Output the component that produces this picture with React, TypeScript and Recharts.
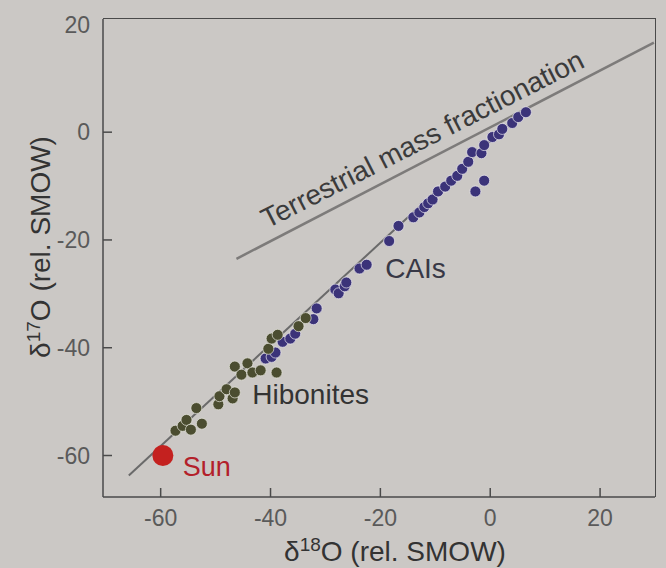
import { Scatter, ScatterChart, XAxis, YAxis } from 'recharts'

const xDomain = [-70.5, 30]
const yDomain = [-67.7, 21]
const xTicks = [-60, -40, -20, 0, 20]
const yTicks = [-60, -40, -20, 0, 20]

const hibonites = [
  { x: -57.3, y: -55.4 }, { x: -56.0, y: -54.5 }, { x: -55.3, y: -53.4 }, { x: -54.5, y: -55.2 },
  { x: -53.5, y: -51.2 }, { x: -52.5, y: -54.1 }, { x: -49.5, y: -50.5 }, { x: -49.3, y: -49.0 },
  { x: -48.0, y: -47.7 }, { x: -46.9, y: -49.4 }, { x: -46.5, y: -48.3 }, { x: -46.5, y: -43.5 },
  { x: -45.3, y: -45.0 }, { x: -44.2, y: -42.9 }, { x: -43.3, y: -44.6 }, { x: -41.8, y: -44.2 },
  { x: -38.9, y: -44.6 }, { x: -40.4, y: -40.2 }, { x: -39.8, y: -38.3 }, { x: -38.7, y: -37.6 },
  { x: -34.9, y: -36.0 }, { x: -33.6, y: -34.5 },
]

const cais = [
  { x: -40.9, y: -42.0 }, { x: -39.8, y: -41.7 }, { x: -39.1, y: -40.9 }, { x: -37.8, y: -38.9 },
  { x: -36.4, y: -38.3 }, { x: -35.5, y: -37.4 }, { x: -32.2, y: -34.7 }, { x: -31.6, y: -32.7 },
  { x: -28.2, y: -29.2 }, { x: -27.6, y: -29.9 }, { x: -26.5, y: -28.6 }, { x: -26.2, y: -27.9 },
  { x: -23.8, y: -25.3 }, { x: -22.5, y: -24.6 }, { x: -18.4, y: -20.2 }, { x: -16.7, y: -17.4 },
  { x: -14.0, y: -15.8 }, { x: -12.9, y: -14.9 }, { x: -12.0, y: -13.9 }, { x: -11.3, y: -13.2 },
  { x: -10.5, y: -12.5 }, { x: -9.5, y: -11.0 }, { x: -8.2, y: -10.1 }, { x: -7.1, y: -9.0 },
  { x: -6.0, y: -8.1 }, { x: -5.1, y: -6.8 }, { x: -4.0, y: -5.5 }, { x: -3.3, y: -3.7 },
  { x: -1.6, y: -3.9 }, { x: -1.1, y: -2.4 }, { x: 0.4, y: -0.9 }, { x: 1.6, y: -0.4 },
  { x: 2.2, y: 0.6 }, { x: 4.0, y: 1.7 }, { x: 5.1, y: 2.8 }, { x: 6.5, y: 3.7 },
  { x: -1.1, y: -9.0 }, { x: -2.7, y: -11.0 },
]

const sun = [{ x: -59.6, y: -60 }]

// slope ~1 line through the meteoritic data, and the terrestrial line (slope ~0.52)
const mixingLine = [{ x: -65.8, y: -63.7 }, { x: 6.0, y: 4.0 }]
const terrestrialLine = [{ x: -46.2, y: -23.5 }, { x: 29.8, y: 16.6 }]

const annotations = [
  { x: -12.4, y: -1.2, text: 'Terrestrial mass fractionation', color: '#3b3b3b', angle: -27, size: 28 },
  { x: -13.6, y: -25.1, text: 'CAIs', color: '#383846', angle: 0, size: 28 },
  { x: -32.7, y: -48.6, text: 'Hibonites', color: '#333333', angle: 0, size: 28 },
  { x: -51.6, y: -62.0, text: 'Sun', color: '#b3202a', angle: 0, size: 27 },
]

const FRAME = '#4a4a4a'
const TICK_TEXT = '#5a5a5a'
const FONT = '"Liberation Sans", Arial, sans-serif'
const MARGIN = { top: 19, right: 11, bottom: 0, left: 0 }
const Y_AXIS_W = 103
const X_AXIS_H = 71

function BottomTick({ x, y, payload }: any) {
  return (
    <g>
      <line x1={x} y1={y - 12} x2={x} y2={y - 21} stroke={FRAME} strokeWidth={1.5} />
      <text x={x} y={y} dy="0.75em" textAnchor="middle" fill={TICK_TEXT} fontSize={23}>
        {payload.value}
      </text>
    </g>
  )
}

function LeftTick({ x, y, payload }: any) {
  return (
    <g>
      {payload.value !== 20 && <line x1={x + 13} y1={y} x2={x + 22} y2={y} stroke={FRAME} strokeWidth={1.5} />}
      <text x={x} y={y} dy="0.36em" textAnchor="end" fill={TICK_TEXT} fontSize={23}>
        {payload.value}
      </text>
    </g>
  )
}

function XTitle({ viewBox }: any) {
  const cx = viewBox.x + viewBox.width / 2 + 16
  return (
    <text x={cx} y={viewBox.y + 64} textAnchor="middle" fill="#333" fontSize={28}>
      δ<tspan dy={-10} fontSize={19}>18</tspan>
      <tspan dy={10}>O (rel. SMOW)</tspan>
    </text>
  )
}

function YTitle({ viewBox }: any) {
  const cx = 40
  const cy = viewBox.y + viewBox.height / 2 - 11
  return (
    <text x={cx} y={cy} dy="0.36em" transform={`rotate(-90 ${cx} ${cy})`} textAnchor="middle" fill="#333" fontSize={28}>
      δ<tspan dy={-10} fontSize={19}>17</tspan>
      <tspan dy={10}>O (rel. SMOW)</tspan>
    </text>
  )
}

const dot = (fill: string, stroke: string, r: number) => (p: any) =>
  <circle cx={p.cx} cy={p.cy} r={r} fill={fill} stroke={stroke} strokeWidth={1} />

const annotationShape = (p: any) => {
  const a = p.payload
  return (
    <text
      x={p.cx}
      y={p.cy}
      dy="0.36em"
      textAnchor="middle"
      fill={a.color}
      fontSize={a.size}
      transform={a.angle ? `rotate(${a.angle} ${p.cx} ${p.cy})` : undefined}
    >
      {a.text}
    </text>
  )
}

export default function App() {
  const W = 666
  const H = 568
  return (
    <div style={{ position: 'absolute', left: 0, top: 0, width: W, height: H, background: '#cbc8c5', fontFamily: FONT }}>
      <ScatterChart width={W} height={H} margin={MARGIN}>
        <XAxis
          type="number"
          dataKey="x"
          domain={xDomain}
          ticks={xTicks}
          interval={0}
          height={X_AXIS_H}
          tickSize={0}
          tickMargin={12}
          tick={<BottomTick />}
          axisLine={{ stroke: FRAME, strokeWidth: 1.5 }}
          label={<XTitle />}
        />
        <YAxis
          type="number"
          dataKey="y"
          domain={yDomain}
          ticks={yTicks}
          interval={0}
          width={Y_AXIS_W}
          tickSize={0}
          tickMargin={13}
          tick={<LeftTick />}
          axisLine={{ stroke: FRAME, strokeWidth: 1.5 }}
          label={<YTitle />}
        />
        <Scatter data={terrestrialLine} line={{ stroke: '#7d7b7a', strokeWidth: 2.5 }} shape={() => null} isAnimationActive={false} />
        <Scatter data={mixingLine} line={{ stroke: '#6a6a6a', strokeWidth: 2 }} shape={() => null} isAnimationActive={false} />
        <Scatter data={cais} shape={dot('#3b3379', 'rgba(235,232,240,0.7)', 5.5)} isAnimationActive={false} />
        <Scatter data={hibonites} shape={dot('#4b4d30', 'rgba(230,230,220,0.7)', 5.5)} isAnimationActive={false} />
        <Scatter data={sun} shape={dot('#c4211f', 'none', 10.5)} isAnimationActive={false} />
        <Scatter data={annotations} shape={annotationShape} isAnimationActive={false} />
      </ScatterChart>
      {/* top and right sides of the plot box */}
      <div
        style={{
          position: 'absolute',
          pointerEvents: 'none',
          boxSizing: 'border-box',
          left: MARGIN.left + Y_AXIS_W,
          top: MARGIN.top - 1,
          right: MARGIN.right - 1,
          bottom: MARGIN.bottom + X_AXIS_H,
          borderTop: `1.5px solid ${FRAME}`,
          borderRight: `1.5px solid ${FRAME}`,
        }}
      />
    </div>
  )
}
